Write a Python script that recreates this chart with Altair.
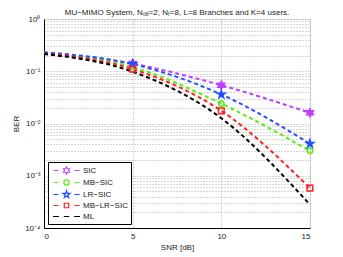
import altair as alt
import pandas as pd

# ---- data ----
snr = [0, 5, 10, 15]
series = ["SIC", "MB−SIC", "LR−SIC", "MB−LR−SIC", "ML"]
ber_sic = [0.23, 0.14, 0.054, 0.016]
ber_mb_sic = [0.225, 0.12, 0.024, 0.0030]
ber_lr_sic = [0.23, 0.137, 0.036, 0.0041]
ber_mb_lr_sic = [0.22, 0.11, 0.0175, 0.00058]
ber_ml = [0.214, 0.098, 0.0126, 0.00028]
colors = ["#bf40ff", "#55ee11", "#2050ff", "#ff2020", "#000000"]
x_ticks = [0, 5, 10, 15]
decades = [1e-4, 1e-3, 1e-2, 1e-1, 1]

values = [ber_sic, ber_mb_sic, ber_lr_sic, ber_mb_lr_sic, ber_ml]
rows = []
for name, vals in zip(series, values):
    for s, b in zip(snr, vals):
        rows.append({"series": name, "snr": s, "ber": b})
df = pd.DataFrame(rows)

y_grid = []
for d in decades[:-1]:
    for m in range(1, 10):
        y_grid.append(round(d * m, 10))
y_grid.append(1)

hex_pts = [(0, -1), (0.289, -0.5), (0.866, -0.5), (0.577, 0), (0.866, 0.5), (0.289, 0.5),
           (0, 1), (-0.289, 0.5), (-0.866, 0.5), (-0.577, 0), (-0.866, -0.5), (-0.289, -0.5)]
pent_pts = [(0, -1), (0.2245, -0.309), (0.951, -0.309), (0.363, 0.118), (0.588, 0.809),
            (0, 0.382), (-0.588, 0.809), (-0.363, 0.118), (-0.951, -0.309), (-0.2245, -0.309)]


def poly(pts, s):
    return "M" + "L".join(f"{x*s:.3f},{y*s:.3f}" for x, y in pts) + "Z"


def circ(r):
    return f"M{r},0A{r},{r} 0 1,1 {-r},0A{r},{r} 0 1,1 {r},0Z"


def sq(h):
    return f"M{-h},{-h}H{h}V{h}H{-h}Z"


side = "M-2.9,0H-1.8M1.8,0H2.9"
legend_shapes = [
    side + poly(hex_pts, 0.78),
    side + circ(0.58),
    side + poly(pent_pts, 0.82),
    side + sq(0.5),
    "M-3,0H-1.7M-0.6,0H0.6M1.7,0H3",
]

FONT = "Liberation Sans"

xs = alt.Scale(domain=[0, 15], nice=False)
ys = alt.Scale(type="log", domain=[1e-4, 1], nice=False)

label_expr = ("datum.value == 1 ? '10⁰' : datum.value == 0.1 ? '10⁻¹' : "
              "datum.value == 0.01 ? '10⁻²' : datum.value == 0.001 ? '10⁻³' : "
              "datum.value == 0.0001 ? '10⁻⁴' : ''")

x_enc = alt.X("snr:Q", scale=xs, axis=alt.Axis(
    values=x_ticks, title="SNR [dB]", grid=True, gridDash=[1, 2], gridColor="#9a9a9a",
    gridWidth=0.8, tickSize=0, labelPadding=4, labelFontSize=8, labelFont=FONT,
    titleFontSize=8, titleFont=FONT, titleFontWeight="normal", titlePadding=3,
    domainColor="black", labelColor="#222", titleColor="#222"))
y_enc = alt.Y("ber:Q", scale=ys, axis=alt.Axis(
    values=y_grid, labelExpr=label_expr, labelOverlap=False, title="BER", grid=True,
    gridDash=[1, 2], gridColor="#9a9a9a", gridWidth=0.8, tickSize=0, labelPadding=4,
    labelFontSize=8, labelFont=FONT, titleFontSize=8, titleFont=FONT,
    titleFontWeight="normal", titlePadding=4, domainColor="black",
    labelColor="#222", titleColor="#222"))

base = alt.Chart(df)

# reversed domain order so this (legend-less) scale does not merge with the legend scales
lines = base.mark_line(strokeDash=[4, 3], strokeWidth=2, interpolate="monotone").encode(
    x=x_enc, y=y_enc,
    color=alt.Color("series:N", scale=alt.Scale(domain=series[::-1], range=colors[::-1]),
                    legend=None),
    detail="series:N",
)

marker_specs = [
    (series[0], poly(hex_pts, 1), colors[0], 1, 64),
    (series[1], "circle", "white", 0, 30),
    (series[2], poly(pent_pts, 1), colors[2], 1, 64),
    (series[3], "square", "white", 0, 32),
]
markers = []
for name, shape, fill, fop, size in marker_specs:
    markers.append(
        base.transform_filter((alt.datum.series == name) & (alt.datum.snr > 0))
        .mark_point(shape=shape, fill=fill, stroke=colors[series.index(name)],
                    strokeWidth=1.5, size=size, opacity=1, fillOpacity=fop)
        .encode(x="snr:Q", y="ber:Q")
    )


def leg():
    return alt.Legend(title=None, orient="bottom-left", offset=4,
                      symbolSize=81, symbolStrokeWidth=1.2, symbolOffset=10,
                      labelOffset=11, labelFontSize=8, labelFont=FONT,
                      labelColor="#222", strokeColor="black",
                      fillColor="white", padding=3, rowPadding=0)


legend_layer = base.transform_filter(alt.datum.snr == 0).mark_point(
    opacity=0, filled=True, strokeWidth=1.2).encode(
    x="snr:Q", y="ber:Q",
    shape=alt.Shape("series:N", scale=alt.Scale(domain=series, range=legend_shapes), legend=leg()),
    fill=alt.Fill("series:N", scale=alt.Scale(domain=series, range=colors), legend=leg()),
    stroke=alt.Stroke("series:N", scale=alt.Scale(domain=series, range=colors), legend=leg()),
)

chart = alt.layer(lines, *markers, legend_layer).properties(
    width=266, height=209,
    autosize=alt.AutoSizeParams(type="none"),
    padding={"left": 36, "top": 11, "right": 25, "bottom": 30},
    title=alt.Title("MU−MIMO System, Nₜₓᵢ=2, Nᵣ=8, L=8  Branches and K=4 users.",
                    fontSize=8, font=FONT, fontWeight="normal", color="#222",
                    offset=0, dy=2),
).configure_view(stroke="black", strokeWidth=1).configure(background="white")

chart.save("out.html", embed_options={"renderer": "svg", "actions": False})
